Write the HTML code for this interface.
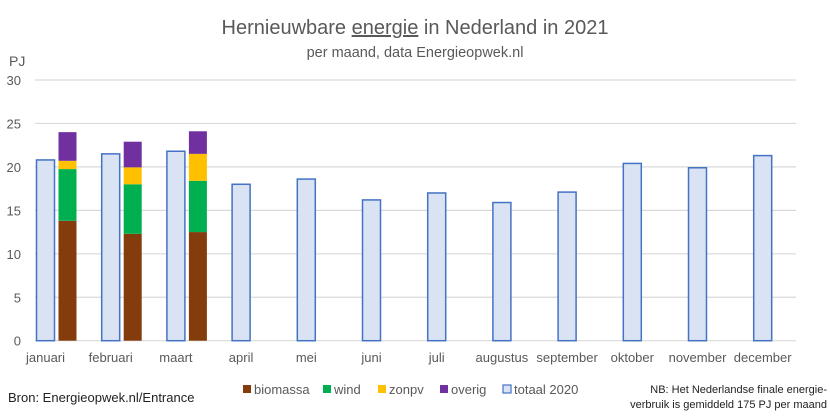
<!DOCTYPE html>
<html><head><meta charset="utf-8"><style>
body{margin:0;background:#fff;}
svg text{font-family:"Liberation Sans",sans-serif;fill:#595959;}
</style></head><body>
<svg width="830" height="415" xmlns="http://www.w3.org/2000/svg">
<rect x="0" y="0" width="830" height="415" fill="#fff"/>
<text x="415" y="34" text-anchor="middle" font-size="20">Hernieuwbare <tspan text-decoration="underline">energie</tspan> in Nederland in 2021</text>
<text x="415" y="57" text-anchor="middle" font-size="14.5">per maand, data Energieopwek.nl</text>
<text x="9" y="66" font-size="14">PJ</text>
<g id="grid"></g><g id="bars"></g><g id="labels"></g>
<text x="8" y="402" font-size="13" fill="#000" style="fill:#222">Bron: Energieopwek.nl/Entrance</text>
<g id="legend"></g>
<text x="827" y="393" text-anchor="end" font-size="11" style="fill:#222">NB: Het Nederlandse finale energie-</text>
<text x="827" y="408" text-anchor="end" font-size="11" style="fill:#222">verbruik is gemiddeld 175 PJ per maand</text>
</svg>
<script>
const months=["januari","februari","maart","april","mei","juni","juli","augustus","september","oktober","november","december"];
const totaal2020=[20.8,21.5,21.8,18.0,18.6,16.2,17.0,15.9,17.1,20.4,19.9,21.3];
const biomassa=[13.8,12.3,12.5];
const wind=[5.95,5.7,5.9];
const zonpv=[0.95,1.95,3.1];
const overig=[3.3,2.95,2.6];
const yTicks=[0,5,10,15,20,25,30];
const NS="http://www.w3.org/2000/svg";
const y0=340.7,yk=8.69;
const y=v=>y0-v*yk;
const xc=i=>45.5+65.2*i;
function mk(tag,attrs,parent){const e=document.createElementNS(NS,tag);for(const k in attrs)e.setAttribute(k,attrs[k]);document.getElementById(parent).appendChild(e);return e;}
yTicks.forEach(t=>{
 const l=mk('line',{x1:35,x2:796,y1:y(t),y2:y(t),stroke:'#d9d9d9','stroke-width':1.2},'grid');
 
 
 const tx=mk('text',{x:21,y:y(t)+5,'text-anchor':'end','font-size':13},'grid');
 tx.textContent=t;
 
 
});
months.forEach((m,i)=>{
 const r=mk('rect',{x:xc(i)-9,y:y(totaal2020[i]),width:18,height:totaal2020[i]*yk,fill:'#dae3f3',stroke:'#4472c4','stroke-width':1.5},'bars');
 
 
 const t=mk('text',{x:xc(i),y:362,'text-anchor':'middle','font-size':13},'labels');
 t.textContent=m;
 
 
});
const series=[["biomassa",biomassa,"#843c0c"],["wind",wind,"#00b050"],["zonpv",zonpv,"#ffc000"],["overig",overig,"#7030a0"]];
for(let i=0;i<biomassa.length;i++){
 let base=0;
 series.forEach(([n,arr,c])=>{
  const v=arr[i];
  const r=mk('rect',{x:xc(i)+13,y:y(base+v),width:18,height:v*yk,fill:c},'bars');
  
  
  base+=v;
 });
}
const leg=[["biomassa","#843c0c",243],["wind","#00b050",323],["zonpv","#ffc000",378],["overig","#7030a0",440],["totaal 2020","#dae3f3",503]];
leg.forEach(([n,c,x])=>{
 const r=mk('rect',{x:x,y:385,width:8,height:8,fill:c},'legend');
 if(n==="totaal 2020"){r.setAttribute('stroke','#4472c4');r.setAttribute('stroke-width','1.2');}
 
 
 const t=mk('text',{x:x+11,y:394,'font-size':13},'legend');
 t.textContent=n;
 
 
});
</script>
</body></html>
